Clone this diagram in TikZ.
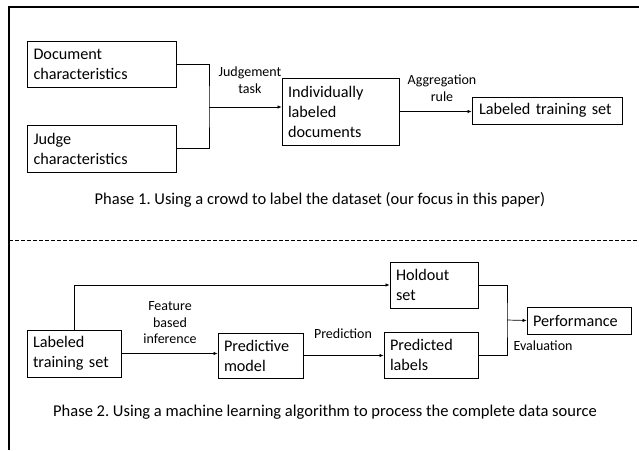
\documentclass[tikz,border=0pt]{standalone}
\usepackage{fontspec}
\setmainfont{Carlito}
\usetikzlibrary{arrows.meta}
\frenchspacing
\begin{document}
\begin{tikzpicture}[x=1pt,y=-1pt,
  box/.style={draw, line width=0.8pt, inner sep=0pt, align=left, font=\fontsize{16.2}{20}\selectfont},
  lbl/.style={align=center, inner sep=0pt, font=\fontsize{14}{16.5}\selectfont},
  captxt/.style={inner sep=0pt, font=\fontsize{16.5}{19}\selectfont},
  conn/.style={line width=0.7pt},
  arr/.style={conn, -{Latex[length=4pt,width=3.5pt]}}]
\useasboundingbox (0,0) rectangle (639,450);
% frame
\draw[line width=1.5pt] (9,450) -- (9,7) -- (639,7);
\draw[line width=0.8pt, dash pattern=on 4pt off 2pt] (9,240) -- (639,240);
% Phase 1
\node[box, minimum width=149, minimum height=46, text width=136] (doc) at (101.5,64) {Document\\characteristics};
\node[box, minimum width=149, minimum height=47, text width=136] (judge) at (101.5,148.5) {Judge\\characteristics};
\node[box, minimum width=117, minimum height=67, text width=105] (indiv) at (340.5,111.5) {Individually\\labeled\\documents};
\node[box, minimum width=150, minimum height=27, text width=136] (lts1) at (547,110.5) {Labeled training set};
\coordinate (j) at (209,107);
\draw[conn] (doc.east) -| (j) |- (judge.east);
\draw[arr] (j) -- (j -| indiv.west);
\draw[arr] (indiv.east) -- (indiv.east -| lts1.west);
\node[lbl] (jt) at (250,80) {Judgement\\task};
\node[lbl] (ar) at (442,88) {Aggregation\\rule};
\node[captxt] (cap1) at (320,200) {Phase 1. Using a crowd to label the dataset (our focus in this paper)};
% Phase 2
\node[box, minimum width=94, minimum height=47, text width=82] (lts2) at (74,353.5) {Labeled\\training set};
\node[box, minimum width=85, minimum height=45, text width=73] (pm) at (260.5,355.5) {Predictive\\model};
\node[box, minimum width=88, minimum height=46, text width=76] (hold) at (434,285) {Holdout\\set};
\node[box, minimum width=94, minimum height=46, text width=82] (pred) at (431,355) {Predicted\\labels};
\node[box, minimum width=104, minimum height=27, text width=92] (perf) at (579,320.5) {Performance};
\draw[arr] (lts2.north) |- (hold.west);
\draw[arr] (lts2.east) -- (lts2.east -| pm.west);
\draw[arr] (pm.east) -- (pm.east -| pred.west);
\coordinate (e) at (507,320);
\draw[conn] (hold.east) -| (e) |- (pred.east);
\draw[arr] (e) -- (perf.west);
\node[lbl] (fbi) at (170,323) {Feature\\based\\inference};
\node[lbl] (pl) at (343,334) {Prediction};
\node[lbl] (ev) at (543,346) {Evaluation};
\node[captxt] (cap2) at (325,412) {Phase 2. Using a machine learning algorithm to process the complete data source};
\end{tikzpicture}
\end{document}
